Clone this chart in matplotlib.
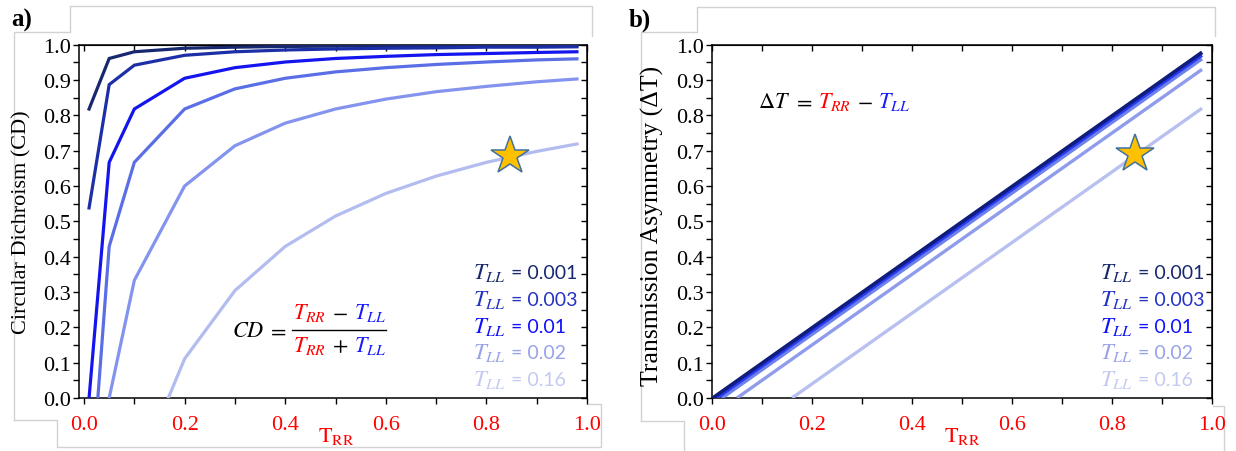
import matplotlib
matplotlib.use('Agg')
import matplotlib.pyplot as plt
import matplotlib.ticker as mt
from matplotlib.lines import Line2D

plt.rcParams['mathtext.fontset'] = 'stix'
plt.rcParams['font.family'] = ['Liberation Serif', 'DejaVu Serif']

# ---------------- data ----------------
trr = [0.01, 0.05, 0.1, 0.2, 0.3, 0.4, 0.5, 0.6, 0.7, 0.8, 0.9, 0.98]
cd_0001 = [0.818, 0.961, 0.980, 0.990, 0.993, 0.995, 0.996, 0.997, 0.997, 0.998, 0.998, 0.998]
cd_0003 = [0.538, 0.887, 0.942, 0.970, 0.980, 0.985, 0.988, 0.990, 0.991, 0.993, 0.993, 0.994]
cd_001 = [0.000, 0.667, 0.818, 0.905, 0.935, 0.951, 0.961, 0.967, 0.972, 0.975, 0.978, 0.980]
cd_002 = [-0.333, 0.429, 0.667, 0.818, 0.875, 0.905, 0.923, 0.935, 0.944, 0.951, 0.957, 0.960]
cd_005 = [-0.667, 0.000, 0.333, 0.600, 0.714, 0.778, 0.818, 0.846, 0.867, 0.882, 0.895, 0.903]
cd_016 = [-0.882, -0.524, -0.231, 0.111, 0.304, 0.429, 0.515, 0.579, 0.628, 0.667, 0.698, 0.719]
cd_series = [cd_0001, cd_0003, cd_001, cd_002, cd_005, cd_016]

# Transmission asymmetry lines: start / end points in (T_RR, dT)
dt_x = [[0.001, 0.98], [0.003, 0.98], [0.01, 0.98], [0.02, 0.98], [0.05, 0.98], [0.16, 0.98]]
dt_y = [[0.0, 0.979], [0.0, 0.977], [0.0, 0.970], [0.0, 0.960], [0.0, 0.930], [0.0, 0.820]]

star_pt = (0.847, 0.685)
star_pt2 = (0.846, 0.69)

legend_vals = ['0.001', '0.003', '0.01', '0.02', '0.16']
x_ticks = [0.0, 0.2, 0.4, 0.6, 0.8, 1.0]
x_ticklabels = ['0.0', '0.2', '0.4', '0.6', '0.8', '1.0']
y_ticks = [0.0, 0.1, 0.2, 0.3, 0.4, 0.5, 0.6, 0.7, 0.8, 0.9, 1.0]

# ---------------- styling ----------------
line_cols = ['#17286f', '#1c2fa6', '#1414ee', '#5a6ee6', '#8494ee', '#b2bcef']
dt_cols = ['#101e7a', '#1822c8', '#2a3cf0', '#6f82ea', '#8f9cec', '#b8c0f0']
leg_cols = ['#17286f', '#2433c4', '#1010ff', '#97a2ea', '#c3caf2']

W, H = 1236, 452
fig = plt.figure(figsize=(W / 100, H / 100), dpi=100)


def fx(x):
    return x / W


def fy(y):
    return 1 - y / H


def frame(xs, ys):
    fig.add_artist(Line2D([fx(v) for v in xs], [fy(v) for v in ys],
                          transform=fig.transFigure, color='#d2d2d2', lw=1.0, zorder=0))


# decorative frames (pasted image borders)
frame([14, 14, 70, 70, 592, 592], [421, 33, 33, 7, 7, 37])
frame([14, 57, 57, 601, 601, 588], [421, 421, 448, 448, 405, 405])
frame([641, 641, 697, 697, 1215, 1215], [422, 33, 33, 8, 8, 37])
frame([641, 684, 684], [422, 422, 452])
frame([1224, 1224, 1213], [452, 407, 407])

ax1 = fig.add_axes([fx(79), fy(399), (587 - 79) / W, (399 - 45.7) / H])
ax2 = fig.add_axes([fx(712), fy(399), (1212 - 712) / W, (399 - 45.7) / H])

for a, xl in ((ax1, (-0.01, 1.0)), (ax2, (0.0, 1.0))):
    a.set_xlim(*xl)
    a.set_ylim(0, 1.0)
    a.set_xticks(x_ticks)
    a.set_xticklabels(x_ticklabels)
    a.xaxis.set_minor_locator(mt.MultipleLocator(0.1))
    a.set_yticks(y_ticks)
    a.yaxis.set_major_formatter(mt.FormatStrFormatter('%.1f'))
    a.yaxis.set_minor_locator(mt.MultipleLocator(0.05))
    a.tick_params(axis='both', which='both', direction='out', width=1.0)
    a.tick_params(axis='both', which='major', length=4.5)
    a.tick_params(axis='both', which='minor', length=4.5)
    a.tick_params(axis='x', which='major', labelsize=16, labelcolor='#ff0000', pad=8)
    a.tick_params(axis='y', which='major', labelsize=16, pad=1)
    for s in a.spines.values():
        s.set_linewidth(1.1)
    sx = a.secondary_xaxis('top')
    sx.set_xticks([0.1 * i for i in range(11)])
    sx.tick_params(direction='in', length=4.5, labeltop=False, width=1.0)
    sx.xaxis.set_minor_locator(mt.NullLocator())
    sy = a.secondary_yaxis('right')
    sy.set_yticks([0.05 * i for i in range(21)])
    sy.tick_params(direction='in', length=4.5, labelright=False, width=1.0)
    sy.yaxis.set_minor_locator(mt.NullLocator())

# left panel curves
for ys, c in zip(cd_series, line_cols):
    ax1.plot(trr, ys, color=c, lw=2.3, solid_joinstyle='miter', zorder=3)
ax1.plot(*star_pt, marker='*', ms=29, mfc='#FFC000', mec='#41719C', mew=1.1, zorder=6,
         clip_on=False)

# right panel lines
for i in range(len(dt_x) - 1, -1, -1):
    ax2.plot(dt_x[i], dt_y[i], color=dt_cols[i], lw=2.4, zorder=3, solid_capstyle='butt')
ax2.plot(*star_pt2, marker='*', ms=29, mfc='#FFC000', mec='#41719C', mew=1.1, zorder=6,
         clip_on=False)

# axis labels
fig.text(fx(22), fy(222), 'Circular Dichroism (CD)', rotation=90, ha='center', va='center',
         fontsize=16)
fig.text(fx(652), fy(226), 'Transmission Asymmetry (ΔT)', rotation=90, ha='center', va='center',
         fontsize=18.5)
fig.text(fx(336), fy(437), r'$\mathrm{T_{RR}}$', color='#ff0000', ha='center', va='center',
         fontsize=16)
fig.text(fx(962), fy(437), r'$\mathrm{T_{RR}}$', color='#ff0000', ha='center', va='center',
         fontsize=16)
fig.text(fx(22), fy(20), 'a)', fontsize=18, fontweight='bold', ha='center', va='center')
fig.text(fx(640), fy(20), 'b)', fontsize=18, fontweight='bold', ha='center', va='center')

fig.canvas.draw()
R = fig.canvas.get_renderer()


def seq(x, y, parts, measure_only=False):
    """Draw text parts one after another starting at pixel x, baseline pixel y."""
    cur = x
    arts = []
    for txt, col, fs, fam in parts:
        t = fig.text(fx(cur), fy(y), txt, color=col, fontsize=fs, ha='left', va='baseline',
                     family=fam)
        bb = t.get_window_extent(R)
        cur += bb.width
        arts.append(t)
    if measure_only:
        for t in arts:
            t.remove()
    return cur - x


serif = 'Liberation Serif'
sans = 'Lato'
RED = '#ff0000'
BLUE = '#1a1aff'

# legends
for i, v in enumerate(legend_vals):
    for x0 in (473, 1100):
        seq(x0, 279 + 26.8 * i, [(r'$T_{LL}$', leg_cols[i], 16.5, serif),
                                 (' = ' + v, leg_cols[i], 14, sans)])

# CD formula
fs = 16
SP = (' ', 'black', fs, serif)
SPS = (' ', 'black', 8, serif)
MINUS = (r'$-$', 'black', fs, serif)
num = [(r'$T_{RR}$', RED, fs, serif), SP, MINUS, SP, (r'$T_{LL}$', BLUE, fs, serif)]
den = [(r'$T_{RR}$', RED, fs, serif), SP, (r'$+$', 'black', fs, serif), SP,
       (r'$T_{LL}$', BLUE, fs, serif)]
wl = seq(232, 337, [(r'$CD$', 'black', fs, serif), SPS, (r'$=$', 'black', fs, serif), SP])
bar_x0 = 232 + wl
wn = seq(0, 0, num, measure_only=True)
wd = seq(0, 0, den, measure_only=True)
bw = max(wn, wd) + 2
seq(bar_x0 + (bw - wn) / 2, 319, num)
seq(bar_x0 + (bw - wd) / 2, 352, den)
fig.add_artist(Line2D([fx(bar_x0), fx(bar_x0 + bw)], [fy(331), fy(331)],
                      transform=fig.transFigure, color='black', lw=1.0))

# Delta T formula
seq(758, 108, [(r'$\Delta T$', 'black', fs, serif), SPS, (r'$=$', 'black', fs, serif), SP,
               (r'$T_{RR}$', RED, fs, serif), SP, MINUS, SP,
               (r'$T_{LL}$', BLUE, fs, serif)])

fig.savefig('out.png', dpi=100)
